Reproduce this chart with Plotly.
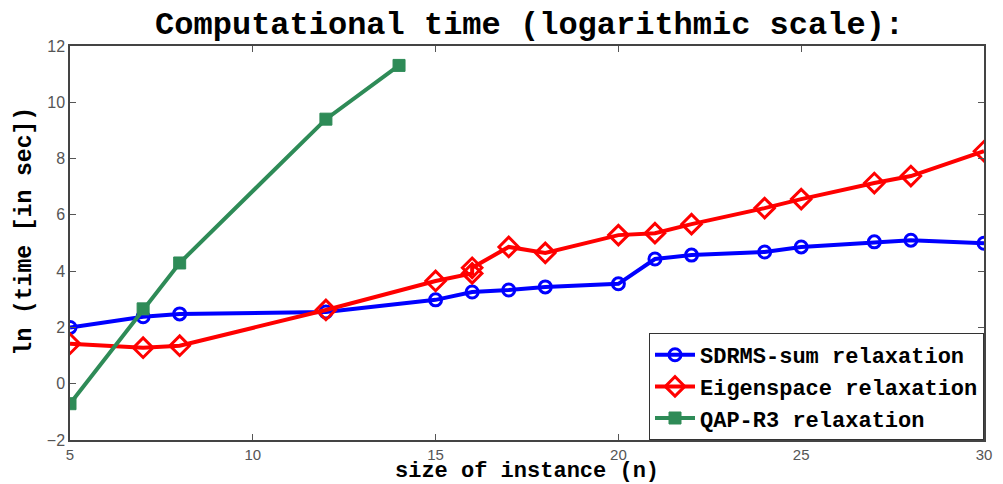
import plotly.graph_objects as go

sdrms_x = [5, 7, 8, 12, 15, 16, 17, 18, 20, 21, 22, 24, 25, 27, 28, 30]
sdrms_y = [2.0, 2.38, 2.48, 2.55, 2.98, 3.26, 3.33, 3.44, 3.55, 4.43, 4.57, 4.68, 4.86, 5.04, 5.1, 4.99]

eigen_x = [5, 7, 8, 12, 15, 16, 16, 17, 18, 20, 21, 22, 24, 25, 27, 28, 30]
eigen_y = [1.42, 1.28, 1.35, 2.62, 3.65, 3.92, 4.12, 4.86, 4.65, 5.28, 5.35, 5.67, 6.24, 6.56, 7.13, 7.38, 8.26]

qap_x = [5, 7, 8, 12, 14]
qap_y = [-0.71, 2.66, 4.29, 9.40, 11.31]

x_ticks = [5, 10, 15, 20, 25, 30]
y_ticks = [-2, 0, 2, 4, 6, 8, 10, 12]

mono = "Liberation Mono, Courier New, monospace"
tickfont = dict(family="Liberation Sans, Arial, sans-serif", size=16, color="#555")
xtickfont = dict(family="Liberation Sans, Arial, sans-serif", size=15, color="#555")

fig = go.Figure()
fig.add_trace(go.Scatter(
    x=sdrms_x, y=sdrms_y, mode="lines+markers", name="<b>SDRMS-sum relaxation</b>",
    line=dict(color="#0000FF", width=4),
    marker=dict(symbol="circle-open", size=12, color="#0000FF", line=dict(width=3, color="#0000FF")),
))
fig.add_trace(go.Scatter(
    x=eigen_x, y=eigen_y, mode="lines+markers", name="<b>Eigenspace relaxation</b>",
    line=dict(color="#FF0000", width=4),
    marker=dict(symbol="diamond-open", size=15, color="#FF0000", line=dict(width=3, color="#FF0000")),
))
fig.add_trace(go.Scatter(
    x=qap_x, y=qap_y, mode="lines+markers", name="<b>QAP-R3 relaxation</b>",
    line=dict(color="#2E8B57", width=4),
    marker=dict(symbol="square", size=12, color="#2E8B57", line=dict(width=1, color="#2E8B57")),
))

fig.update_layout(
    width=1003, height=484,
    margin=dict(l=70, r=11, t=46, b=44),
    paper_bgcolor="white", plot_bgcolor="white",
    title=dict(text="<b>Computational time (logarithmic scale):</b>",
               font=dict(family=mono, size=32, color="black"),
               x=0.528, xanchor="center", y=0.953, yanchor="middle"),
    legend=dict(x=1, y=0, xanchor="right", yanchor="bottom",
                bgcolor="white", bordercolor="#333", borderwidth=1,
                font=dict(family=mono, size=22, color="black"),
                itemwidth=40, tracegroupgap=0),
    showlegend=True,
    annotations=[
        dict(text="<b>size of instance (n)</b>", xref="paper", yref="paper",
             x=0.5, y=-0.081, xanchor="center", yanchor="middle", showarrow=False,
             font=dict(family=mono, size=22, color="black")),
        dict(text="<b>ln (time [in sec])</b>", xref="paper", yref="paper",
             x=-0.049, y=0.53, xanchor="center", yanchor="middle", showarrow=False,
             textangle=-90, font=dict(family=mono, size=23, color="black")),
    ],
)
fig.update_xaxes(
    range=[5, 30], tickvals=x_ticks, ticks="inside", ticklen=6, tickcolor="#555",
    showgrid=False, zeroline=False, showline=True, linecolor="#444", linewidth=1.5, mirror="ticks",
    tickfont=xtickfont, ticklabelstandoff=0,
)
fig.update_yaxes(
    range=[-2, 12], tickvals=y_ticks, ticks="inside", ticklen=6, tickcolor="#555",
    showgrid=False, zeroline=False, showline=True, linecolor="#444", linewidth=1.5, mirror="ticks",
    tickfont=tickfont,
)

fig.write_html("out.html", config={"displayModeBar": False},
               post_script="document.body.style.margin='0';")
